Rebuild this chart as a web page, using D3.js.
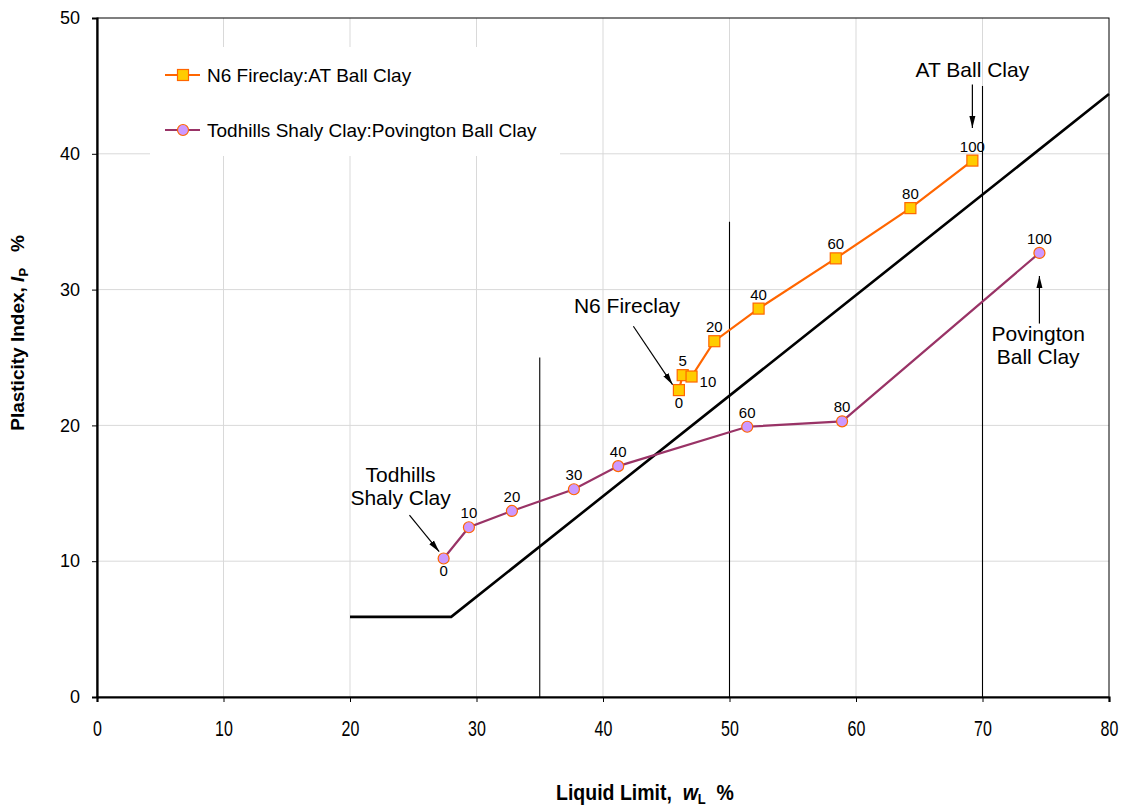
<!DOCTYPE html>
<html><head><meta charset="utf-8">
<script src="https://cdn.jsdelivr.net/npm/d3@7"></script>
<style>body{margin:0;background:#fff;} svg{display:block;font-family:"Liberation Sans",Arial,sans-serif;}</style>
</head><body><svg id="c" width="1127" height="807"></svg>
<script>
// ---- data ----
const xTicks = [0,10,20,30,40,50,60,70,80];
const yTicks = [0,10,20,30,40,50];

const n6Name = "N6 Fireclay:AT Ball Clay";
const n6LL = [46.0, 46.3, 47.0, 48.8, 52.3, 58.4, 64.3, 69.2];
const n6PI = [22.6, 23.7, 23.6, 26.2, 28.6, 32.3, 36.0, 39.5];
const n6Pct = ["0","5","10","20","40","60","80","100"];
const n6LabelPos = ["below","above","right","above","above","above","above","above"];

const tdName = "Todhills Shaly Clay:Povington Ball Clay";
const tdLL = [27.4, 29.4, 32.8, 37.7, 41.2, 51.4, 58.9, 74.5];
const tdPI = [10.2, 12.5, 13.7, 15.3, 17.0, 19.9, 20.3, 32.7];
const tdPct = ["0","10","20","30","40","60","80","100"];
const tdLabelPos = ["below","above","above","above","above","above","above","above"];

// A-line
const aLineLL = [20, 28, 80];
const aLinePI = [5.9, 5.9, 44.4];

// vertical boundary lines (liquid limit, top of line)
const vLineLL = [35, 50, 70];
const vLineTop = [25, 35, 45];

// ---- layout ----
const svg = d3.select("#c");
const x = d3.scaleLinear().domain([0,80]).range([97,1109]);
const y = d3.scaleLinear().domain([0,50]).range([697,18]);

// grid
svg.append("g").selectAll("line").data(xTicks.filter(d=>d>0&&d<80)).join("line")
  .attr("x1",d=>x(d)).attr("x2",d=>x(d)).attr("y1",y(0)).attr("y2",y(50))
  .attr("stroke","#d9d9d9").attr("stroke-width",1);
svg.append("g").selectAll("line").data(yTicks.filter(d=>d>0&&d<50)).join("line")
  .attr("x1",x(0)).attr("x2",x(80)).attr("y1",d=>y(d)).attr("y2",d=>y(d))
  .attr("stroke","#d9d9d9").attr("stroke-width",1);

// border
svg.append("rect").attr("x",x(0)).attr("y",y(50)).attr("width",x(80)-x(0)).attr("height",y(0)-y(50))
  .attr("fill","none").attr("stroke","#000").attr("stroke-width",1);

// legend box (white, hides gridlines)
svg.append("rect").attr("x",150).attr("y",47).attr("width",410).attr("height",109).attr("fill","#fff");

// axes
const xAxis = d3.axisBottom(x).tickValues(xTicks).tickSize(5).tickPadding(0).tickFormat(d3.format("d"));
const gx = svg.append("g").attr("transform",`translate(0,${y(0)})`).call(xAxis);
gx.select(".domain").attr("stroke","#000").attr("stroke-width",2.2);
gx.selectAll(".tick line").attr("stroke","#000");
gx.selectAll(".tick text").attr("font-size",16).attr("fill","#000")
  .attr("font-family","'Liberation Sans',Arial,sans-serif")
  .attr("dy",null).attr("y",0)
  .attr("transform","translate(0,39) scale(1,1.35)");

const yAxis = d3.axisLeft(y).tickValues(yTicks).tickSize(5).tickPadding(12).tickFormat(d3.format("d"));
const gy = svg.append("g").attr("transform",`translate(${x(0)},0)`).call(yAxis);
gy.select(".domain").attr("stroke","#000").attr("stroke-width",2.2);
gy.selectAll(".tick line").attr("stroke","#000");
gy.selectAll(".tick text").attr("font-size",18).attr("fill","#000")
  .attr("font-family","'Liberation Sans',Arial,sans-serif");

// vertical lines
svg.append("g").selectAll("line").data(vLineLL).join("line")
  .attr("x1",d=>x(d)).attr("x2",d=>x(d)).attr("y1",y(0)).attr("y2",(d,i)=>y(vLineTop[i]))
  .attr("stroke","#000").attr("stroke-width",1.1);

// A-line
const line = d3.line().x(d=>x(d[0])).y(d=>y(d[1]));
svg.append("path").datum(aLineLL.map((v,i)=>[v,aLinePI[i]])).attr("d",line)
  .attr("fill","none").attr("stroke","#000").attr("stroke-width",2.6);

// series
const n6 = n6LL.map((v,i)=>[v,n6PI[i]]);
const td = tdLL.map((v,i)=>[v,tdPI[i]]);
svg.append("path").datum(n6).attr("d",line).attr("fill","none").attr("stroke","#ff6600").attr("stroke-width",2.2);
svg.append("path").datum(td).attr("d",line).attr("fill","none").attr("stroke","#993366").attr("stroke-width",2.2);

svg.append("g").selectAll("rect").data(n6).join("rect")
  .attr("x",d=>x(d[0])-5.5).attr("y",d=>y(d[1])-5.5).attr("width",11).attr("height",11)
  .attr("fill","#ffcc00").attr("stroke","#ff6600").attr("stroke-width",1.2);
svg.append("g").selectAll("circle").data(td).join("circle")
  .attr("cx",d=>x(d[0])).attr("cy",d=>y(d[1])).attr("r",5.5)
  .attr("fill","#cc99ff").attr("stroke","#ff6600").attr("stroke-width",1.2);

// point labels
function ptLabels(pts, labels, pos){
  svg.append("g").selectAll("text").data(pts).join("text")
    .attr("x",(d,i)=>x(d[0]) + (pos[i]==="right"?8:0))
    .attr("y",(d,i)=>y(d[1]) + (pos[i]==="below"?18:(pos[i]==="right"?10:-9)))
    .attr("text-anchor",(d,i)=>pos[i]==="right"?"start":"middle")
    .attr("font-size",15).attr("fill","#000")
    .text((d,i)=>labels[i]);
}
ptLabels(n6, n6Pct, n6LabelPos);
ptLabels(td, tdPct, tdLabelPos);

// arrows
const defs = svg.append("defs");
defs.append("marker").attr("id","arr").attr("viewBox","0 0 12 10").attr("refX",12).attr("refY",5)
  .attr("markerWidth",12).attr("markerHeight",10).attr("markerUnits","userSpaceOnUse").attr("orient","auto")
  .append("path").attr("d","M0,2 L12,5 L0,8 Z").attr("fill","#000");
function arrow(x1,y1,x2,y2){
  svg.append("line").attr("x1",x(x1)).attr("y1",y(y1)).attr("x2",x(x2)).attr("y2",y(y2))
    .attr("stroke","#000").attr("stroke-width",1.2).attr("marker-end","url(#arr)");
}
function note(lines, cx, baseY){
  const t = svg.append("text").attr("text-anchor","middle").attr("font-size",21).attr("fill","#000");
  lines.forEach((s,i)=>t.append("tspan").attr("x",x(cx)).attr("y",y(baseY)+i*23).text(s));
}
note(["AT Ball Clay"], 69.2, 45.65); arrow(69.2, 45.1, 69.2, 41.9);
note(["N6 Fireclay"], 41.9, 28.3); arrow(42.4, 27.3, 45.5, 23.0);
note(["Todhills","Shaly Clay"], 24.0, 15.85); arrow(24.7, 13.4, 27.05, 10.7);
note(["Povington","Ball Clay"], 74.4, 26.25); arrow(74.5, 27.5, 74.5, 31.0);

// legend
const leg = [{name:n6Name,stroke:"#ff6600",fill:"#ffcc00",shape:"sq"},{name:tdName,stroke:"#993366",fill:"#cc99ff",shape:"ci"}];
leg.forEach((L,i)=>{
  const ly = 75 + i*55;
  svg.append("line").attr("x1",165).attr("x2",200).attr("y1",ly).attr("y2",ly).attr("stroke",L.stroke).attr("stroke-width",2.2);
  if(L.shape==="sq") svg.append("rect").attr("x",177.5).attr("y",ly-5.5).attr("width",11).attr("height",11).attr("fill",L.fill).attr("stroke","#ff6600").attr("stroke-width",1.2);
  else svg.append("circle").attr("cx",183).attr("cy",ly).attr("r",5.5).attr("fill",L.fill).attr("stroke","#ff6600").attr("stroke-width",1.2);
  svg.append("text").attr("x",207).attr("y",ly+7).attr("font-size",19).attr("fill","#000").text(L.name);
});

// axis titles
const NB = "\u00a0";
const xt = svg.append("text").attr("text-anchor","middle").attr("font-size",19.5).attr("font-weight","bold")
  .attr("transform","translate(645,800) scale(1,1.12)");
xt.append("tspan").text("Liquid Limit," + NB + NB);
xt.append("tspan").attr("font-style","italic").text("w");
xt.append("tspan").attr("font-size",13).attr("dy",4).text("L");
xt.append("tspan").attr("dy",-4).text(NB + NB + "%");

const yt = svg.append("text").attr("text-anchor","middle").attr("font-size",19).attr("font-weight","bold")
  .attr("transform","translate(24,333) rotate(-90)");
yt.append("tspan").text("Plasticity Index," + NB);
yt.append("tspan").attr("font-style","italic").text("I");
yt.append("tspan").attr("font-size",13).attr("dy",4).text("P");
yt.append("tspan").attr("dy",-4).text(NB + NB + NB + "%");
</script></body></html>
